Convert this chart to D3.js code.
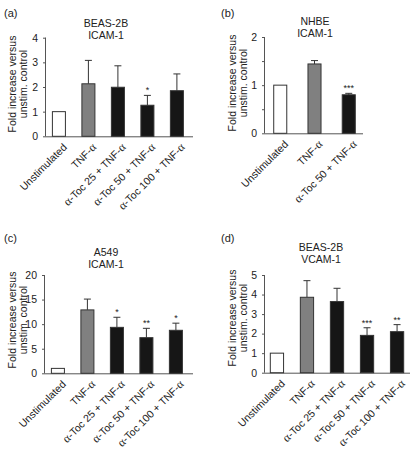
<!DOCTYPE html>
<html><head><meta charset="utf-8">
<script src="https://cdn.jsdelivr.net/npm/d3@7"></script>
<style>body{margin:0;background:#fff}svg{display:block}text{font-family:"Liberation Sans",Arial,sans-serif;fill:#222}</style>
</head><body>
<script>
// ---- data ----
const categories5 = ["Unstimulated", "TNF-α", "α-Toc 25 + TNF-α", "α-Toc 50 + TNF-α", "α-Toc 100 + TNF-α"];
const categories3 = ["Unstimulated", "TNF-α", "α-Toc 50 + TNF-α"];

const valuesA = [1.0, 2.13, 1.99, 1.26, 1.85];
const errorsA = [0, 0.95, 0.87, 0.40, 0.68];
const sigA = ["", "", "", "*", ""];
const ticksA = [0, 1, 2, 3, 4];

const valuesB = [1.0, 1.44, 0.80];
const errorsB = [0, 0.07, 0.03];
const sigB = ["", "", "***"];
const ticksB = [0, 0.5, 1, 1.5, 2];
const tickLabelsB = ["0", "", "1", "", "2"];

const valuesC = [1.0, 12.9, 9.35, 7.25, 8.75];
const errorsC = [0, 2.2, 2.05, 1.9, 1.45];
const sigC = ["", "", "*", "**", "*"];
const ticksC = [0, 5, 10, 15, 20];

const valuesD = [1.0, 3.86, 3.64, 1.91, 2.10];
const errorsD = [0, 0.85, 0.68, 0.39, 0.36];
const sigD = ["", "", "", "***", "**"];
const ticksD = [0, 1, 2, 3, 4, 5];

const panelLetters = ["(a)", "(b)", "(c)", "(d)"];
const titlesA = ["BEAS-2B", "ICAM-1"];
const titlesB = ["NHBE", "ICAM-1"];
const titlesC = ["A549", "ICAM-1"];
const titlesD = ["BEAS-2B", "VCAM-1"];
const yTitle = ["Fold increase versus", "unstim. control"];

// ---- drawing ----
const svg = d3.select("body").append("svg").attr("width", 411).attr("height", 452);

function fillFor(cat) {
  if (cat === "Unstimulated") return "#ffffff";
  if (cat === "TNF-α") return "#808080";
  return "#161616";
}

function addLabel(sel, str) {
  const parts = str.split(/(α)/);
  parts.forEach(p => {
    if (!p) return;
    const t = sel.append("tspan").text(p);
    if (p === "α") t.style("font-family", "'Liberation Serif', serif").style("font-size", "12px");
  });
}

function panel(cfg) {
  const g = svg.append("g");
  const x = d3.scaleBand().domain(cfg.cats).range([cfg.x0, cfg.x1b])
    .paddingInner(cfg.pi).paddingOuter(cfg.po);
  const y = d3.scaleLinear().domain(cfg.domain).range([cfg.y0, cfg.y1]);

  g.append("text").attr("x", cfg.lx).attr("y", cfg.ly).style("font-size", "11px").text(cfg.letter);
  cfg.title.forEach((t, i) => {
    g.append("text").attr("x", cfg.tx).attr("y", cfg.ty + i * 11.5)
      .attr("text-anchor", "middle").style("font-size", "10.5px").text(t);
  });
  yTitle.forEach((t, i) => {
    g.append("text")
      .attr("transform", `translate(${cfg.ytx + i * 11.5},${cfg.yty}) rotate(-90)`)
      .attr("text-anchor", "middle").style("font-size", "10.5px").text(t);
  });

  const ya = d3.axisLeft(y).tickValues(cfg.ticks).tickSize(3).tickPadding(5)
    .tickFormat((d, i) => cfg.tickLabels ? cfg.tickLabels[i] : d3.format("d")(d));
  const yg = g.append("g").attr("transform", `translate(${cfg.x0},0)`).call(ya);
  yg.select(".domain").attr("stroke", "#555").attr("d", `M-0.5,${cfg.y0}V${cfg.y1}`);
  yg.selectAll(".tick line").attr("stroke", "#555");
  yg.selectAll(".tick text").style("font-size", "10.5px").attr("fill", "#222")
    .style("font-family", "'Liberation Sans',Arial,sans-serif");

  g.append("line").attr("x1", cfg.x0).attr("x2", cfg.x1).attr("y1", cfg.y0 + 0.5).attr("y2", cfg.y0 + 0.5)
    .attr("stroke", "#555");

  const data = cfg.cats.map((c, i) => ({ c, v: cfg.values[i], e: cfg.errors[i], s: cfg.sig[i] }));

  const eb = g.selectAll(".eb").data(data.filter(d => d.e > 0)).join("g");
  eb.append("line")
    .attr("x1", d => x(d.c) + x.bandwidth() / 2).attr("x2", d => x(d.c) + x.bandwidth() / 2)
    .attr("y1", d => y(d.v)).attr("y2", d => y(d.v + d.e)).attr("stroke", "#333").attr("stroke-width", 1);
  eb.append("line")
    .attr("x1", d => x(d.c) + x.bandwidth() / 2 - 3.5).attr("x2", d => x(d.c) + x.bandwidth() / 2 + 3.5)
    .attr("y1", d => y(d.v + d.e)).attr("y2", d => y(d.v + d.e)).attr("stroke", "#333").attr("stroke-width", 1);

  g.selectAll(".bar").data(data).join("rect")
    .attr("x", d => x(d.c) + 0.5).attr("width", x.bandwidth() - 1)
    .attr("y", d => y(d.v)).attr("height", d => y(0) - y(d.v))
    .attr("fill", d => fillFor(d.c)).attr("stroke", "#333").attr("stroke-width", 1);

  g.selectAll(".sig").data(data.filter(d => d.s)).join("text")
    .attr("x", d => x(d.c) + x.bandwidth() / 2).attr("y", d => y(d.v + d.e) - 2)
    .attr("text-anchor", "middle").style("font-size", "9px").text(d => d.s);

  data.forEach(d => {
    const t = g.append("text")
      .attr("transform", `translate(${x(d.c) + x.bandwidth() / 2 + 6},${cfg.y0 + 9}) rotate(-45)`)
      .attr("text-anchor", "end").attr("dy", "0.35em").style("font-size", "10.5px");
    addLabel(t, d.c);
  });
}

panel({ cats: categories5, values: valuesA, errors: errorsA, sig: sigA, ticks: ticksA, domain: [0, 4],
  x0: 46, x1: 193, x1b: 189.8, pi: 0.525, po: 0.2, y0: 136.3, y1: 37.7,
  letter: panelLetters[0], lx: 4, ly: 17, title: titlesA, tx: 106, ty: 27,
  ytx: 15.5, yty: 84 });

panel({ cats: categories3, values: valuesB, errors: errorsB, sig: sigB, ticks: ticksB, tickLabels: tickLabelsB, domain: [0, 2],
  x0: 265, x1: 363, x1b: 364, pi: 0.59, po: 0.24, y0: 133.3, y1: 37,
  letter: panelLetters[1], lx: 221, ly: 17, title: titlesB, tx: 315, ty: 25,
  ytx: 235.5, yty: 83 });

panel({ cats: categories5, values: valuesC, errors: errorsC, sig: sigC, ticks: ticksC, domain: [0, 20],
  x0: 45, x1: 193, x1b: 188.8, pi: 0.525, po: 0.2, y0: 373.3, y1: 275,
  letter: panelLetters[2], lx: 4, ly: 242, title: titlesC, tx: 106, ty: 256,
  ytx: 15.5, yty: 320 });

panel({ cats: categories5, values: valuesD, errors: errorsD, sig: sigD, ticks: ticksD, domain: [0, 5],
  x0: 265, x1: 410, x1b: 409, pi: 0.525, po: 0.16, y0: 372.7, y1: 275,
  letter: panelLetters[3], lx: 221, ly: 242, title: titlesD, tx: 321, ty: 251,
  ytx: 235.5, yty: 318 });
</script>
</body></html>
